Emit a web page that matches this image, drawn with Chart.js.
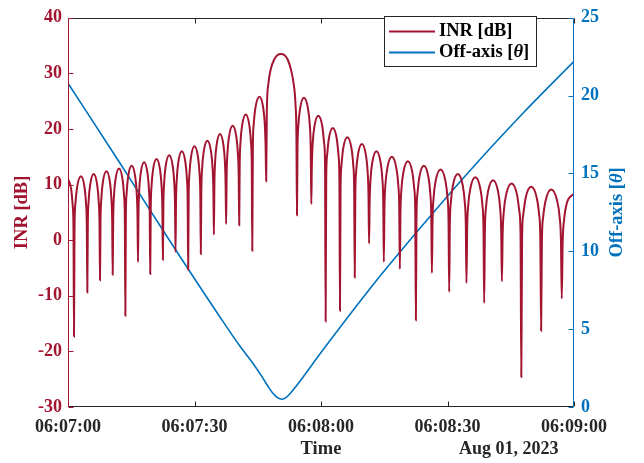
<!DOCTYPE html>
<html lang="en">
<head>
<meta charset="UTF-8">
<title>INR and off-axis angle</title>
<script src="https://cdn.jsdelivr.net/npm/chart.js"></script>
<style>
    body {
        margin: 0;
        padding: 0;
        background-color: #fff;
    }
    canvas {
        display: block;
    }
</style>
</head>
<body>
<canvas id="inrChart" width="644" height="463"></canvas>
<script>
    // time axis in seconds after 06:07:00
    const xTickLabels = ['06:07:00', '06:07:30', '06:08:00', '06:08:30', '06:09:00'];
    const dateLabel = 'Aug 01, 2023';

    // INR [dB], one lobe per line (null first): [seconds, dB]
    const inrPoints = [
        [0, 11.0], [0.75, 9.2], [1.12, 6.2], [1.30, 2.2],
        [1.42, -17.3], [1.55, 2.5], [1.75, 6.5], [2.15, 9.5], [3.08, 11.5], [3.92, 9.5], [4.28, 6.5], [4.46, 2.5],
        [4.58, -9.4], [4.70, 2.9], [4.88, 6.9], [5.25, 9.9], [6.10, 11.9], [6.93, 9.9], [7.29, 6.9], [7.47, 2.9],
        [7.59, -7.2], [7.71, 3.4], [7.90, 7.4], [8.26, 10.4], [9.12, 12.4], [9.95, 10.4], [10.30, 7.4], [10.48, 3.4],
        [10.6, -6.2], [10.72, 3.9], [10.90, 7.9], [11.26, 10.9], [12.10, 12.9], [12.94, 10.9], [13.30, 7.9], [13.48, 3.9],
        [13.6, -13.6], [13.72, 4.4], [13.90, 8.4], [14.26, 11.4], [15.10, 13.4], [15.94, 11.4], [16.30, 8.4], [16.48, 4.4],
        [16.6, -3.9], [16.72, 5.0], [16.89, 9.0], [17.24, 12.0], [18.05, 14.0], [18.86, 12.0], [19.21, 9.0], [19.38, 5.0],
        [19.5, -6.1], [19.62, 5.6], [19.80, 9.6], [20.16, 12.6], [21.00, 14.6], [21.84, 12.6], [22.20, 9.6], [22.38, 5.6],
        [22.5, -3.5], [22.62, 6.3], [22.80, 10.3], [23.16, 13.3], [24.00, 15.3], [24.84, 13.3], [25.20, 10.3], [25.38, 6.3],
        [25.5, -2.1], [25.62, 7.0], [25.80, 11.0], [26.16, 14.0], [27.00, 16.0], [27.84, 14.0], [28.20, 11.0], [28.38, 7.0],
        [28.5, -5.3], [28.62, 7.9], [28.80, 11.9], [29.16, 14.9], [30.00, 16.9], [30.84, 14.9], [31.20, 11.9], [31.38, 7.9],
        [31.5, -2.5], [31.62, 8.9], [31.81, 12.9], [32.18, 15.9], [33.05, 17.9], [33.92, 15.9], [34.29, 12.9], [34.48, 8.9],
        [34.6, 1.0], [34.72, 10.1], [34.89, 14.1], [35.24, 17.1], [36.05, 19.1], [36.86, 17.1], [37.21, 14.1], [37.38, 10.1],
        [37.5, 2.9], [37.62, 11.6], [37.81, 15.6], [38.18, 18.6], [39.05, 20.6], [39.92, 18.6], [40.29, 15.6], [40.48, 11.6],
        [40.6, 2.7], [40.72, 13.6], [40.91, 17.6], [41.28, 20.6], [42.15, 22.6], [43.02, 20.6], [43.39, 17.6], [43.58, 13.6],
        [43.7, -1.9], [43.84, 16.8], [44.04, 20.8], [44.45, 23.8], [45.40, 25.8], [46.30, 23.8], [46.68, 20.8], [46.87, 16.8],
        [47.0, 10.6], [47.15, 23.0], [47.5, 28.0], [48.1, 30.8], [48.9, 32.5], [49.7, 33.3], [50.5, 33.5],
        [51.3, 33.3], [52.1, 32.5], [52.9, 30.6], [53.5, 28.2], [53.95, 24.5], [54.17, 19.0],
        [54.3, 4.5], [54.43, 16.6], [54.63, 20.6], [55.03, 23.6], [55.95, 25.6], [56.93, 23.6], [57.35, 20.6], [57.56, 16.6],
        [57.7, 6.5], [57.83, 13.4], [58.03, 17.4], [58.43, 20.4], [59.35, 22.4], [60.33, 20.4], [60.75, 17.4], [60.96, 13.4],
        [61.1, -14.6], [61.24, 11.2], [61.44, 15.2], [61.85, 18.2], [62.80, 20.2], [63.75, 18.2], [64.16, 15.2], [64.36, 11.2],
        [64.5, -12.7], [64.64, 9.5], [64.85, 13.5], [65.27, 16.5], [66.25, 18.5], [67.23, 16.5], [67.65, 13.5], [67.86, 9.5],
        [68.0, -6.7], [68.14, 8.3], [68.34, 12.3], [68.75, 15.3], [69.70, 17.3], [70.65, 15.3], [71.06, 12.3], [71.26, 8.3],
        [71.4, -0.6], [71.54, 7.0], [71.75, 11.0], [72.17, 14.0], [73.15, 16.0], [74.13, 14.0], [74.55, 11.0], [74.76, 7.0],
        [74.9, -3.9], [75.05, 6.0], [75.28, 10.0], [75.74, 13.0], [76.80, 15.0], [77.86, 13.0], [78.32, 10.0], [78.55, 6.0],
        [78.7, -5.2], [78.85, 5.2], [79.08, 9.2], [79.54, 12.2], [80.60, 14.2], [81.66, 12.2], [82.12, 9.2], [82.35, 5.2],
        [82.5, -14.4], [82.65, 4.4], [82.88, 8.4], [83.34, 11.4], [84.40, 13.4], [85.46, 11.4], [85.92, 8.4], [86.15, 4.4],
        [86.3, -5.9], [86.46, 3.7], [86.71, 7.7], [87.20, 10.7], [88.35, 12.7], [89.50, 10.7], [89.99, 7.7], [90.24, 3.7],
        [90.4, -9.3], [90.56, 2.9], [90.81, 6.9], [91.30, 9.9], [92.45, 11.9], [93.60, 9.9], [94.09, 6.9], [94.34, 2.9],
        [94.5, -7.7], [94.67, 2.3], [94.92, 6.3], [95.42, 9.3], [96.60, 11.3], [97.78, 9.3], [98.28, 6.3], [98.53, 2.3],
        [98.7, -11.3], [98.87, 1.8], [99.12, 5.8], [99.62, 8.8], [100.80, 10.8], [101.98, 8.8], [102.48, 5.8], [102.73, 1.8],
        [102.9, -7.4], [103.08, 1.2], [103.36, 5.2], [103.91, 8.2], [105.20, 10.2], [106.49, 8.2], [107.04, 5.2], [107.32, 1.2],
        [107.5, -24.6], [107.69, 0.6], [107.97, 4.6], [108.53, 7.6], [109.85, 9.6], [111.17, 7.6], [111.73, 4.6], [112.01, 0.6],
        [112.2, -16.3], [112.39, 0.1], [112.68, 4.1], [113.26, 7.1], [114.60, 9.1], [116.00, 7.1], [116.60, 4.1], [116.90, 0.1],
        [117.1, -10.5], [117.31, -0.5], [117.62, 3.5], [118.24, 6.5], [120.0, 8.4]
    ];

    // off-axis angle [deg]: [seconds, deg]
    const offAxisPoints = [
        [0, 20.8], [12, 15.8], [24.2, 10.65], [36, 5.8], [40.8, 3.9], [44, 2.75], [46, 1.95],
        [47.5, 1.3], [48.7, 0.85], [49.7, 0.6], [50.7, 0.5], [51.7, 0.6], [52.8, 0.9], [54, 1.3],
        [55, 1.65], [60, 3.5], [71.6, 7.6], [76.4, 9.2], [94.4, 14.9], [108, 18.9], [120, 22.2]
    ];

    const inrColor = '#A2142F';
    const offColor = '#0072BD';
    const axisColor = '#262626';
    const fontFamily = '"Liberation Serif", "Times New Roman", serif';
    const tickFont = { family: fontFamily, size: 18, weight: 'bold' };
    const titleFont = { family: fontFamily, size: 18.5, weight: 'bold' };

    function toXY(points) {
        return points.map(p => ({ x: p[0], y: p[1] }));
    }

    // "Off-axis [θ]" with an italic theta
    const offAxisText = [['Off-axis [', 'bold'], ['\u03B8', 'italic bold'], [']', 'bold']];

    function richWidth(ctx, parts) {
        let w = 0;
        parts.forEach(p => {
            ctx.font = p[1] + ' ' + titleFont.size + 'px ' + fontFamily;
            w += ctx.measureText(p[0]).width;
        });
        return w;
    }
    function drawRich(ctx, parts, x, y) {
        let cx = x;
        parts.forEach(p => {
            ctx.font = p[1] + ' ' + titleFont.size + 'px ' + fontFamily;
            ctx.fillText(p[0], cx, y);
            cx += ctx.measureText(p[0]).width;
        });
    }

    const framePlugin = {
        id: 'frame',
        afterDraw(chart) {
            const ctx = chart.ctx;
            const { left, right, top, bottom } = chart.chartArea;
            const xs = chart.scales.x, ys = chart.scales.y, ys1 = chart.scales.y1;
            const tl = 5;
            ctx.save();
            ctx.lineWidth = 1;

            function seg(x1, y1, x2, y2, color) {
                ctx.strokeStyle = color;
                ctx.beginPath();
                ctx.moveTo(x1, y1);
                ctx.lineTo(x2, y2);
                ctx.stroke();
            }
            const L = Math.round(left) + 0.5, R = Math.round(right) - 0.5;
            const T = Math.round(top) + 0.5, B = Math.round(bottom) - 0.5;

            seg(L, T, R, T, axisColor);
            seg(L, B, R, B, axisColor);
            xs.ticks.forEach(t => {
                const px = Math.round(xs.getPixelForValue(t.value)) + 0.5;
                seg(px, B, px, B - tl, axisColor);
                seg(px, T, px, T + tl, axisColor);
            });
            seg(L, T, L, B, inrColor);
            ys.ticks.forEach(t => {
                const py = Math.round(ys.getPixelForValue(t.value)) + 0.5;
                seg(L, py, L + tl, py, inrColor);
            });
            seg(R, T, R, B, offColor);
            ys1.ticks.forEach(t => {
                const py = Math.round(ys1.getPixelForValue(t.value)) + 0.5;
                seg(R, py, R - tl, py, offColor);
            });

            // right axis title, reading bottom to top
            ctx.save();
            ctx.translate(617, (top + bottom) / 2);
            ctx.rotate(-Math.PI / 2);
            ctx.fillStyle = offColor;
            ctx.textBaseline = 'middle';
            ctx.textAlign = 'left';
            const w = richWidth(ctx, offAxisText);
            drawRich(ctx, offAxisText, -w / 2, 0);
            ctx.restore();

            // date under the last tick
            ctx.fillStyle = axisColor;
            ctx.font = 'bold ' + tickFont.size + 'px ' + fontFamily;
            ctx.textBaseline = 'middle';
            ctx.textAlign = 'left';
            ctx.fillText(dateLabel, 459, 449);

            // legend
            const bx = 384.5, by = 16.5, bw = 152, bh = 50;
            ctx.fillStyle = '#fff';
            ctx.fillRect(bx, by, bw, bh);
            ctx.strokeStyle = axisColor;
            ctx.strokeRect(bx, by, bw, bh);
            ctx.lineWidth = 2;
            seg(389, 31.5, 435, 31.5, inrColor);
            seg(389, 52.5, 435, 52.5, offColor);
            ctx.fillStyle = '#000';
            ctx.textBaseline = 'middle';
            ctx.font = 'bold ' + titleFont.size + 'px ' + fontFamily;
            ctx.fillText('INR [dB]', 439, 31.5);
            drawRich(ctx, offAxisText, 439, 52.5);
            ctx.restore();
        }
    };

    const ctx = document.getElementById('inrChart').getContext('2d');
    const inrChart = new Chart(ctx, {
        type: 'line',
        data: {
            datasets: [{
                label: 'INR [dB]',
                data: toXY(inrPoints),
                yAxisID: 'y',
                borderColor: inrColor,
                borderWidth: 2,
                pointRadius: 0,
                cubicInterpolationMode: 'monotone'
            }, {
                label: 'Off-axis [\u03B8]',
                data: toXY(offAxisPoints),
                yAxisID: 'y1',
                borderColor: offColor,
                borderWidth: 1.6,
                pointRadius: 0,
                cubicInterpolationMode: 'monotone'
            }]
        },
        options: {
            responsive: false,
            animation: false,
            devicePixelRatio: 1,
            layout: { padding: { top: 8, left: 0, right: 0, bottom: 0 } },
            plugins: {
                legend: { display: false },
                tooltip: { enabled: false }
            },
            scales: {
                x: {
                    type: 'linear',
                    min: 0,
                    max: 120,
                    grid: { display: false, drawTicks: false },
                    border: { display: false },
                    ticks: {
                        stepSize: 30,
                        autoSkip: false,
                        maxRotation: 0,
                        padding: 10,
                        color: axisColor,
                        font: tickFont,
                        callback: v => xTickLabels[Math.round(v / 30)]
                    },
                    title: {
                        display: true,
                        text: 'Time',
                        color: axisColor,
                        font: titleFont,
                        padding: { top: 0, bottom: 3 }
                    },
                    afterFit: s => { s.height = 56; }
                },
                y: {
                    position: 'left',
                    min: -30,
                    max: 40,
                    grid: { display: false, drawTicks: false },
                    border: { display: false },
                    ticks: {
                        stepSize: 10,
                        padding: 6,
                        color: inrColor,
                        font: tickFont
                    },
                    title: {
                        display: true,
                        text: 'INR [dB]',
                        color: inrColor,
                        font: titleFont,
                        padding: { top: 11, bottom: 0 }
                    },
                    afterFit: s => { s.width = 68; }
                },
                y1: {
                    position: 'right',
                    min: 0,
                    max: 25,
                    grid: { display: false, drawTicks: false },
                    border: { display: false },
                    ticks: {
                        stepSize: 5,
                        padding: 7,
                        color: offColor,
                        font: tickFont
                    },
                    afterFit: s => { s.width = 70; }
                }
            }
        },
        plugins: [framePlugin]
    });
</script>
</body>
</html>
